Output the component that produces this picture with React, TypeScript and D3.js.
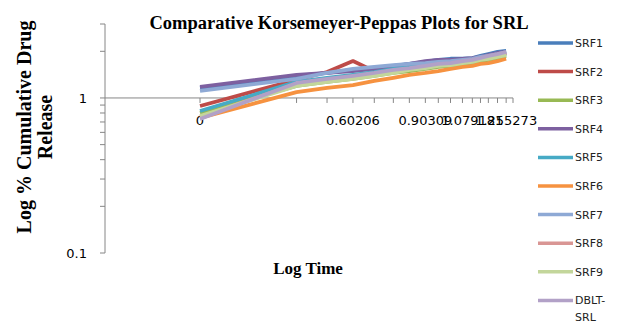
import React from "react";
import * as d3 from "d3";

const logTime = [0, 0.38, 0.5, 0.60206, 0.686, 0.761, 0.824, 0.887, 0.938, 0.986, 1.033, 1.072, 1.104, 1.135, 1.171, 1.205];
const xLabelIdx = [0, 3, 7, 11, 15];
const xLabels = ["0", "0.60206", "0.90309", "1.079181", "1.255273"];
const xAxisEnd = 1.232;
const xAxisStart = -0.374;

const seriesNames = ["SRF1", "SRF2", "SRF3", "SRF4", "SRF5", "SRF6", "SRF7", "SRF8", "SRF9", "DBLT-SRL"];
const seriesColors = ["#4A7EBB", "#BE4B48", "#98B954", "#7D60A0", "#46AAC5", "#F69240", "#8EA9D5", "#D99694", "#C3D69B", "#B2A1C7"];

const SRF1 = [1.16, 1.39, 1.45, 1.52, 1.56, 1.61, 1.66, 1.71, 1.76, 1.79, 1.79, 1.81, 1.87, 1.92, 1.98, 2.01];
const SRF2 = [0.888, 1.31, 1.47, 1.73, 1.49, 1.56, 1.61, 1.66, 1.68, 1.71, 1.73, 1.76, 1.81, 1.84, 1.89, 1.95];
const SRF3 = [0.8, 1.195, 1.27, 1.33, 1.39, 1.45, 1.49, 1.54, 1.585, 1.61, 1.66, 1.68, 1.73, 1.76, 1.81, 1.87];
const SRF4 = [1.18, 1.41, 1.45, 1.49, 1.54, 1.585, 1.66, 1.73, 1.76, 1.76, 1.79, 1.81, 1.84, 1.89, 1.95, 1.98];
const SRF5 = [0.824, 1.27, 1.35, 1.41, 1.47, 1.54, 1.585, 1.63, 1.66, 1.68, 1.71, 1.73, 1.79, 1.81, 1.87, 1.92];
const SRF6 = [0.743, 1.09, 1.16, 1.21, 1.29, 1.35, 1.41, 1.45, 1.49, 1.54, 1.585, 1.61, 1.66, 1.68, 1.73, 1.79];
const SRF7 = [1.11, 1.33, 1.45, 1.54, 1.585, 1.63, 1.66, 1.68, 1.71, 1.73, 1.76, 1.79, 1.84, 1.87, 1.92, 1.98];
const SRF8 = [0.754, 1.23, 1.31, 1.37, 1.43, 1.49, 1.54, 1.585, 1.63, 1.66, 1.71, 1.73, 1.79, 1.84, 1.89, 1.95];
const SRF9 = [0.765, 1.195, 1.27, 1.33, 1.39, 1.45, 1.52, 1.56, 1.61, 1.63, 1.68, 1.71, 1.76, 1.79, 1.84, 1.89];
const DBLT = [0.732, 1.25, 1.33, 1.39, 1.45, 1.52, 1.56, 1.61, 1.66, 1.68, 1.73, 1.76, 1.81, 1.87, 1.92, 1.98];
const allSeries = [SRF1, SRF2, SRF3, SRF4, SRF5, SRF6, SRF7, SRF8, SRF9, DBLT];

const yMajor = [0.1, 1];
const yMinor = [0.2, 0.3, 0.4, 0.5, 0.6, 0.7, 0.8, 0.9, 2, 3];
const yDomain: [number, number] = [0.1, 3];

export default function App() {
  const W = 621, H = 322;
  const x = d3.scaleLinear().domain([xAxisStart, xAxisEnd]).range([105, 513]);
  const y = d3.scaleLog().domain(yDomain).range([253, 24]);
  const line = d3.line<number>().x((_, i) => x(logTime[i])).y((v) => y(v));
  const axisColor = "#868686";
  const x0 = x(xAxisStart);
  const yCross = y(1);
  const xTicks = [...logTime, xAxisEnd];
  const legendTop = 43;
  const legendStep = 28.6;

  return (
    <svg width={W} height={H} style={{ position: "fixed", left: 0, top: 0, background: "#fff" }}>
      <text x={339} y={29} textAnchor="middle" fontFamily="Liberation Serif" fontWeight="bold" fontSize={18.5}>
        Comparative Korsemeyer-Peppas Plots for SRL
      </text>
      {/* y axis */}
      <line x1={x0} x2={x0} y1={y(yDomain[1])} y2={y(yDomain[0])} stroke={axisColor} strokeWidth={1} />
      {[...yMajor, ...yMinor].map((v) => (
        <line key={"yt" + v} x1={x0 - 5} x2={x0} y1={y(v)} y2={y(v)} stroke={axisColor} />
      ))}
      {yMajor.map((v) => (
        <text key={"yl" + v} x={87} y={y(v) + 5} textAnchor="end" fontFamily="DejaVu Sans" fontSize={13} fill="#000">
          {String(v)}
        </text>
      ))}
      {/* x axis at y=1 */}
      <line x1={x0} x2={x(xAxisEnd)} y1={yCross} y2={yCross} stroke={axisColor} strokeWidth={1} />
      {xTicks.map((v, i) => (
        <line key={"xt" + i} x1={x(v)} x2={x(v)} y1={yCross} y2={yCross + 5} stroke={axisColor} />
      ))}
      {xLabelIdx.map((idx, i) => (
        <text key={"xl" + i} x={x(logTime[idx])} y={yCross + 27} textAnchor="middle" fontFamily="DejaVu Sans" fontSize={13} fill="#000">
          {xLabels[i]}
        </text>
      ))}
      {/* series */}
      {allSeries.map((s, i) => (
        <path key={"s" + i} d={line(s) || ""} fill="none" stroke={seriesColors[i]} strokeWidth={3.8} strokeLinejoin="round" />
      ))}
      {/* axis titles */}
      <text x={308} y={274} textAnchor="middle" fontFamily="Liberation Serif" fontWeight="bold" fontSize={17}>
        Log Time
      </text>
      <g transform="translate(0,127) rotate(-90)">
        <text x={0} y={31} textAnchor="middle" fontFamily="Liberation Serif" fontWeight="bold" fontSize={20}>
          Log % Cumulative Drug
        </text>
        <text x={0} y={52} textAnchor="middle" fontFamily="Liberation Serif" fontWeight="bold" fontSize={20}>
          Release
        </text>
      </g>
      {/* legend */}
      {seriesNames.map((n, i) => {
        const ly = legendTop + i * legendStep;
        const parts = n === "DBLT-SRL" ? ["DBLT-", "SRL"] : [n];
        return (
          <g key={"lg" + i}>
            <line x1={538} x2={573} y1={ly} y2={ly} stroke={seriesColors[i]} strokeWidth={3.5} />
            {parts.map((p, j) => (
              <text key={j} x={575} y={ly + 4 + j * 17} fontFamily="DejaVu Sans" fontSize={11} fill="#222">
                {p}
              </text>
            ))}
          </g>
        );
      })}
    </svg>
  );
}
